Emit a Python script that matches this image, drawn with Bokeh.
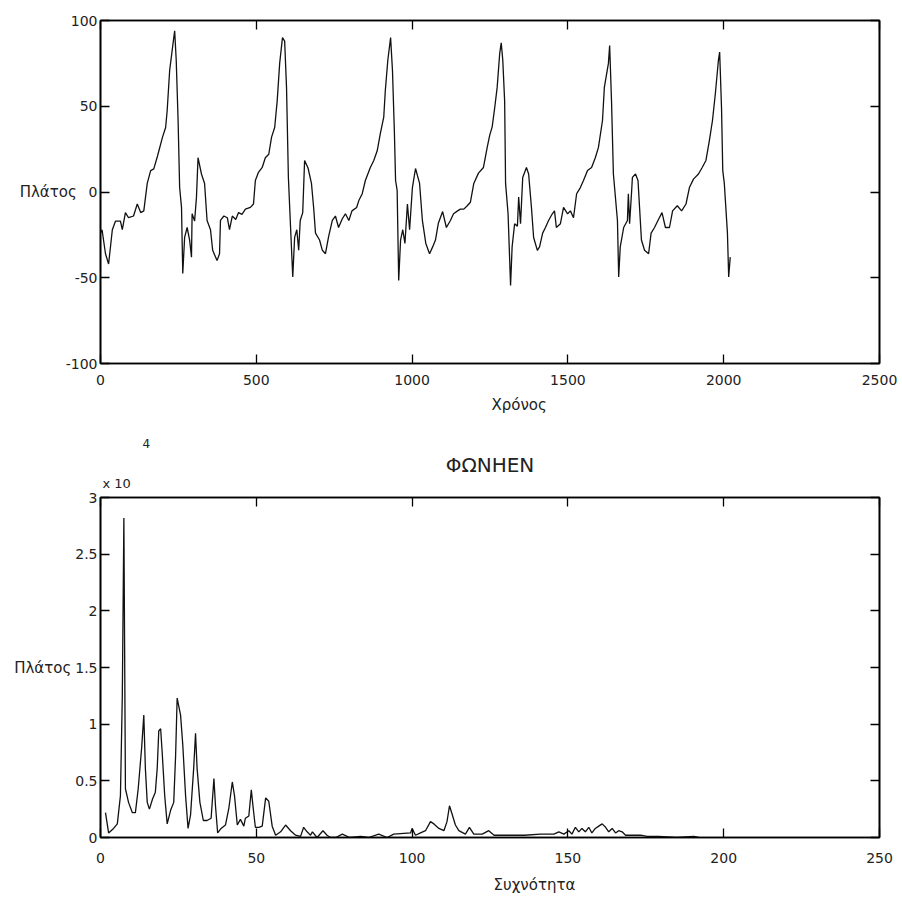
from bokeh.plotting import figure
from bokeh.models import Range1d, FixedTicker, LinearAxis, Title
from bokeh.layouts import column
from bokeh.embed import file_html
from bokeh.resources import INLINE

# ---------------- data: time signal ----------------
time_samples = [0, 5, 16, 26, 38, 48, 64, 70, 80, 90,
                106, 118, 129, 139, 150, 161, 171, 183, 199, 209,
                214, 222, 231, 238, 243, 249, 254, 260, 264, 270,
                278, 286, 292, 294, 302, 308, 313, 324, 334, 342,
                353, 360, 374, 382, 385, 396, 407, 414, 423, 434,
                443, 454, 465, 481, 491, 497, 507, 519, 529, 540,
                549, 559, 567, 575, 584, 591, 597, 603, 610, 617,
                623, 630, 636, 641, 649, 655, 666, 677, 684, 690,
                703, 712, 722, 732, 744, 754, 764, 776, 786, 797,
                807, 822, 829, 840, 850, 866, 877, 888, 898, 909,
                914, 922, 931, 937, 943, 947, 952, 957, 963, 970,
                977, 985, 992, 1001, 1011, 1024, 1033, 1044, 1056, 1066,
                1075, 1084, 1098, 1110, 1123, 1133, 1146, 1155, 1166, 1177,
                1187, 1198, 1213, 1229, 1241, 1249, 1257, 1265, 1273, 1281,
                1286, 1291, 1297, 1300, 1308, 1316, 1321, 1329, 1338, 1342,
                1348, 1355, 1367, 1374, 1383, 1390, 1402, 1409, 1419, 1428,
                1438, 1450, 1457, 1463, 1476, 1486, 1499, 1508, 1518, 1528,
                1540, 1550, 1563, 1576, 1588, 1598, 1611, 1617, 1630, 1634,
                1640, 1646, 1659, 1663, 1668, 1679, 1691, 1694, 1698, 1704,
                1707, 1717, 1725, 1730, 1736, 1746, 1759, 1767, 1778, 1789,
                1802, 1813, 1826, 1836, 1851, 1865, 1879, 1890, 1903, 1919,
                1931, 1943, 1954, 1964, 1973, 1983, 1987, 1993, 1997, 2002,
                2012, 2016, 2021]

time_amplitude = [-24, -22, -36, -42, -22, -17, -17, -22, -12, -15,
                  -14, -7, -12, -11, 5, 12.5, 13.5, 21, 32, 37.6,
                  47.5, 71, 84, 94, 77, 42, 2.6, -9, -47.5, -26.5,
                  -20.7, -28, -38, -12.7, -17, -3, 20, 10.5, 5, -16.6,
                  -22, -34, -40, -36, -16.6, -14, -15, -22, -14, -16,
                  -12, -13, -10, -9, -7, 6.7, 11.5, 14.3, 20, 22,
                  32, 37.6, 53, 75, 90, 88, 61, 8.5, -20.7, -49.6,
                  -26.5, -22, -34, -16.6, -12, 18.4, 14, 5, -9, -24,
                  -28, -34, -36, -26, -16.6, -14, -20.7, -15.6, -12.7, -16.6,
                  -11, -9, -5, -1, 6.7, 14.3, 18.4, 24, 34, 43.6,
                  59, 76.7, 90, 71, 36, 6.7, 1, -51.6, -28, -22,
                  -30, -7, -22, 2.6, 13.7, 5, -16.6, -30, -36, -32,
                  -28, -18.4, -11.4, -20.7, -16.6, -12.7, -11, -10, -10, -8,
                  -6, 5, 11, 14.3, 26, 33, 38, 49, 61, 80.5,
                  87, 77, 53, 5, -12.7, -54.5, -32, -18.5, -20, -3,
                  -18.5, 8.5, 14.3, 10.5, -9, -26.5, -34, -32, -24, -20.7,
                  -16.6, -12.7, -11, -20.7, -18.5, -9, -12.7, -11, -15, -1,
                  2.6, 6.7, 12.5, 14.3, 20, 26, 41.7, 61, 75, 85.4,
                  53, 10.5, -16.6, -49.6, -32, -20.7, -16.6, -1, -18.5, -1,
                  8.5, 10.5, 6.7, -9, -28, -34, -36, -24, -20.7, -16.6,
                  -12, -20.7, -20.7, -11, -8, -11, -7, 2.6, 7.5, 10.5,
                  14.3, 18.4, 30, 41.7, 57, 76.7, 81.6, 49.3, 12.5, 5,
                  -24, -49.6, -38]

time_xticks = [0, 500, 1000, 1500, 2000, 2500]
time_yticks = [-100, -50, 0, 50, 100]
time_ytick_labels = ["-100", "-50", "0", "50", "100"]

# ---------------- data: spectrum (amplitude in units of 10^4) ----------------
freq = [1.6, 2.6, 4.2, 5.4, 6.4, 7.0, 7.5, 8.0, 9.0, 10.2,
        11.2, 12.1, 13.2, 13.9, 14.4, 15.0, 15.7, 16.7, 17.6, 18.2,
        18.7, 19.3, 19.8, 20.6, 21.4, 22.5, 23.5, 24.1, 24.6, 25.7,
        26.4, 27.3, 28.1, 28.9, 29.9, 30.5, 31.0, 31.9, 33.0, 34.2,
        35.5, 36.4, 36.9, 37.6, 38.7, 40.1, 41.2, 42.3, 43.0, 43.9,
        44.9, 46.0, 46.5, 47.6, 48.4, 49.0, 49.7, 50.8, 51.9, 53.0,
        54.0, 55.1, 56.2, 57.8, 59.4, 61.0, 62.6, 64.2, 65.2, 66.3,
        67.4, 68.0, 69.5, 71.4, 72.7, 73.8, 75.5, 77.6, 80.0, 83.5,
        86.0, 89.3, 92.0, 94.1, 99.5, 100.0, 101.1, 102.7, 104.3, 105.9,
        107.0, 108.6, 110.2, 111.2, 112.0, 112.8, 113.9, 115.0, 117.1, 118.4,
        119.8, 122.5, 124.6, 126.3, 131.0, 136.0, 141.2, 145.5, 147.1, 148.7,
        150.3, 151.3, 152.4, 153.5, 154.5, 155.6, 156.7, 157.7, 158.8, 159.9,
        161.0, 162.1, 163.1, 164.2, 165.3, 166.3, 167.4, 168.5, 171.1, 173.3,
        175.4, 179.1, 185.0, 190.4, 192.0]

spectrum_amp_e4 = [0.22, 0.04, 0.08, 0.12, 0.37, 1.25, 2.82, 0.43, 0.31, 0.22,
                   0.22, 0.43, 0.79, 1.08, 0.61, 0.31, 0.25, 0.34, 0.40, 0.61,
                   0.94, 0.96, 0.75, 0.37, 0.12, 0.24, 0.31, 0.72, 1.23, 1.08,
                   0.82, 0.37, 0.08, 0.20, 0.61, 0.92, 0.61, 0.31, 0.15, 0.15,
                   0.17, 0.52, 0.28, 0.04, 0.08, 0.11, 0.26, 0.49, 0.37, 0.11,
                   0.16, 0.10, 0.17, 0.19, 0.42, 0.26, 0.09, 0.09, 0.10, 0.35,
                   0.32, 0.10, 0.02, 0.05, 0.11, 0.06, 0.02, 0.01, 0.09, 0.05,
                   0.02, 0.05, 0.00, 0.06, 0.02, 0.00, 0.00, 0.03, 0.00, 0.01,
                   0.00, 0.03, 0.00, 0.03, 0.04, 0.08, 0.02, 0.04, 0.06, 0.14,
                   0.12, 0.08, 0.06, 0.14, 0.28, 0.21, 0.11, 0.06, 0.03, 0.09,
                   0.03, 0.03, 0.06, 0.02, 0.02, 0.02, 0.03, 0.03, 0.05, 0.03,
                   0.06, 0.03, 0.09, 0.05, 0.08, 0.05, 0.09, 0.04, 0.08, 0.10,
                   0.12, 0.09, 0.05, 0.08, 0.04, 0.06, 0.05, 0.02, 0.02, 0.02,
                   0.01, 0.01, 0.00, 0.01, 0.00]

freq_xticks = [0, 50, 100, 150, 200, 250]
spec_yticks = [0, 0.5, 1, 1.5, 2, 2.5, 3]
spec_ytick_labels = ["0", "0.5", "1", "1.5", "2", "2.5", "3"]

FONT = "DejaVu Sans"
TXT = "#222222"


def style_axis(ax, ticks, show_labels=True, overrides=None):
    ax.ticker = FixedTicker(ticks=ticks)
    ax.axis_line_color = "black"
    ax.axis_line_width = 1.6
    ax.major_tick_in = 9
    ax.major_tick_out = 0
    ax.major_tick_line_color = "black"
    ax.major_tick_line_width = 1.3
    ax.minor_tick_line_color = None
    ax.axis_label = None
    ax.major_label_text_font = FONT
    if show_labels:
        ax.major_label_text_font_size = "14px"
        ax.major_label_text_color = TXT
        if overrides:
            ax.major_label_overrides = overrides
    else:
        ax.major_label_text_font_size = "1px"
        ax.major_label_text_color = None
        ax.major_label_standoff = 0
        ax.axis_label_standoff = 0


def horizontal_ylabel(ax, text, standoff):
    ax.axis_label = text
    ax.axis_label_text_font = FONT
    ax.axis_label_text_font_size = "15px"
    ax.axis_label_text_font_style = "normal"
    ax.axis_label_text_color = TXT
    ax.axis_label_standoff = standoff
    try:
        ax.axis_label_orientation = "horizontal"
    except Exception:
        pass


def make_fig(xr, yr, fh, top, bottom):
    p = figure(frame_width=779, frame_height=fh,
               x_range=Range1d(*xr), y_range=Range1d(*yr),
               min_border_left=100, min_border_right=23,
               min_border_top=top, min_border_bottom=bottom,
               output_backend="svg", toolbar_location=None,
               background_fill_color="white", border_fill_color="white")
    p.grid.visible = False
    p.outline_line_color = "black"
    p.outline_line_width = 1.6
    return p


def side_title(p, text, size, align, offset, standoff, place):
    t = Title(text=text, align=align, offset=offset, standoff=standoff,
              text_font=FONT, text_font_size=size, text_font_style="normal",
              text_color=TXT)
    p.add_layout(t, place)


# ---------------- top panel (height 20 + 343 + 58 = 421) ----------------
p1 = make_fig((0, 2500), (-100, 100), 343, 20, 58)
style_axis(p1.xaxis[0], time_xticks)
p1.xaxis[0].major_label_standoff = 11
style_axis(p1.yaxis[0], time_yticks,
           overrides={t: s for t, s in zip(time_yticks, time_ytick_labels)})
p1.yaxis[0].major_label_standoff = 3
horizontal_ylabel(p1.yaxis[0], "Πλάτος", -14)
ax_top1 = LinearAxis()
style_axis(ax_top1, time_xticks, show_labels=False)
p1.add_layout(ax_top1, "above")
ax_right1 = LinearAxis()
style_axis(ax_right1, time_yticks, show_labels=False)
p1.add_layout(ax_right1, "right")

p1.line(time_samples, time_amplitude, line_color="#111111", line_width=1.3)
side_title(p1, "Χρόνος", "15px", "left", 391, 13, "below")

# ---------------- bottom panel (height 76 + 340 + 60 = 476) ----------------
p2 = make_fig((0, 250), (0, 3), 340, 76, 60)
style_axis(p2.xaxis[0], freq_xticks)
p2.xaxis[0].major_label_standoff = 15
style_axis(p2.yaxis[0], spec_yticks,
           overrides={t: s for t, s in zip(spec_yticks, spec_ytick_labels)})
p2.yaxis[0].major_label_standoff = 3
horizontal_ylabel(p2.yaxis[0], "Πλάτος", 1)
ax_top2 = LinearAxis()
style_axis(ax_top2, freq_xticks, show_labels=False)
p2.add_layout(ax_top2, "above")
ax_right2 = LinearAxis()
style_axis(ax_right2, spec_yticks, show_labels=False)
p2.add_layout(ax_right2, "right")

p2.line(freq, spectrum_amp_e4, line_color="#111111", line_width=1.3)
side_title(p2, "Συχνότητα", "15px", "left", 393, 16, "below")
side_title(p2, "x 10", "13px", "left", 2, 14, "above")
side_title(p2, "ΦΩΝΗΕΝ", "20px", "center", 0, -21, "above")
side_title(p2, "4", "12px", "left", 42, 28, "above")

layout = column(p1, p2, spacing=0)
open("out.html", "w").write(file_html(layout, INLINE))
